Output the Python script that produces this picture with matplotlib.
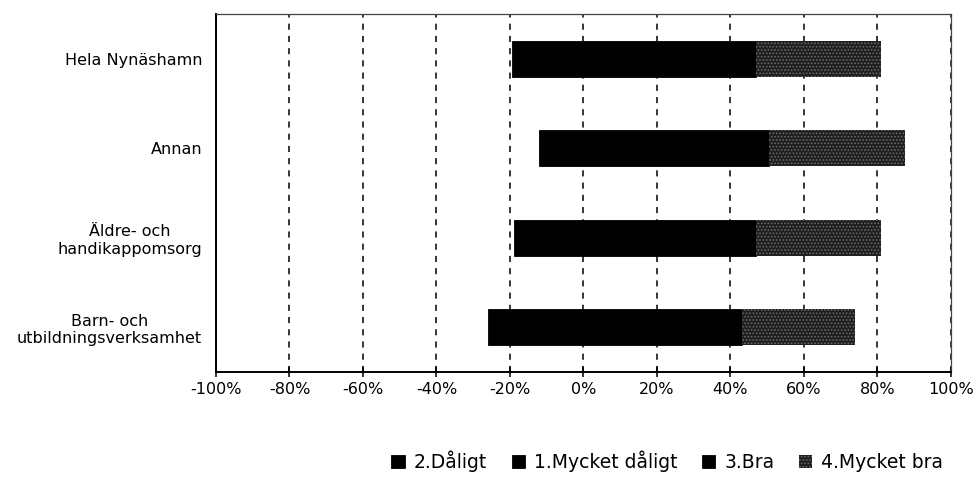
#!/usr/bin/env python3
# -*- coding: utf-8 -*-

"""
Diverging stacked bar chart: opinion per sector, Nynäshamn.
"""

import matplotlib as mpl
import matplotlib.pyplot as plt
from matplotlib.ticker import FuncFormatter, MultipleLocator


CATEGORIES = [
    "Hela Nynäshamn",
    "Annan",
    "Äldre- och\nhandikappomsorg",
    "Barn- och\nutbildningsverksamhet",
]

# percent, negative side stacks outwards from 0
DALIGT = [-15.0, -10.0, -15.0, -20.0]
MYCKET_DALIGT = [-4.5, -2.0, -4.0, -6.0]
BRA = [47.0, 50.5, 47.0, 43.0]
MYCKET_BRA = [34.0, 37.0, 34.0, 31.0]

LABELS = ["2.Dåligt", "1.Mycket dåligt", "3.Bra", "4.Mycket bra"]


def setup_style() -> None:
    mpl.rcParams.update({
        "font.family": ["DejaVu Sans"],
        "font.size": 11.5,
        "hatch.linewidth": 0.8,
    })


def main() -> int:
    setup_style()
    fig = plt.figure(figsize=(9.8, 4.97), dpi=100)
    ax = fig.add_axes([0.2204, 0.2515, 0.750, 0.7203])

    y = list(range(len(CATEGORIES)))
    h = 0.4

    ax.barh(y, DALIGT, height=h, color="#000000", edgecolor="#000000",
            linewidth=0.6, label=LABELS[0], zorder=3)
    ax.barh(y, MYCKET_DALIGT, left=DALIGT, height=h, color="#000000",
            edgecolor="#000000", linewidth=0.6, label=LABELS[1], zorder=3)
    ax.barh(y, BRA, height=h, color="#000000", edgecolor="#000000",
            linewidth=0.6, label=LABELS[2], zorder=3)
    ax.barh(y, MYCKET_BRA, left=BRA, height=h, color="#1e1e1e",
            edgecolor="#6a6a6a", linewidth=0, hatch=".....",
            label=LABELS[3], zorder=3)

    ax.set_xlim(-100, 100)
    ax.set_ylim(len(CATEGORIES) - 0.5, -0.5)
    ax.xaxis.set_major_locator(MultipleLocator(20))
    ax.xaxis.set_major_formatter(FuncFormatter(lambda v, _: f"{v:.0f}%".replace("−", "-")))
    ax.set_yticks(y)
    ax.set_yticklabels(CATEGORIES, ha="right", multialignment="center")

    ax.grid(axis="x", color="black", linestyle=(0, (4, 4)), linewidth=1.1, zorder=1)
    ax.tick_params(axis="x", direction="inout", length=7, width=1.1, pad=4)
    ax.tick_params(axis="y", length=0, pad=10)

    for side in ("left", "bottom"):
        ax.spines[side].set_linewidth(1.4)
    for side in ("top", "right"):
        ax.spines[side].set_linewidth(0.9)
        ax.spines[side].set_color("#444444")

    fig.legend(
        loc="center",
        bbox_to_anchor=(0.681, 0.072),
        ncol=4,
        frameon=False,
        fontsize=13.5,
        handlelength=0.7,
        handleheight=0.7,
        handletextpad=0.5,
        columnspacing=1.3,
    )

    fig.savefig("out.png", dpi=100)
    plt.close(fig)
    return 0


if __name__ == "__main__":
    raise SystemExit(main())
